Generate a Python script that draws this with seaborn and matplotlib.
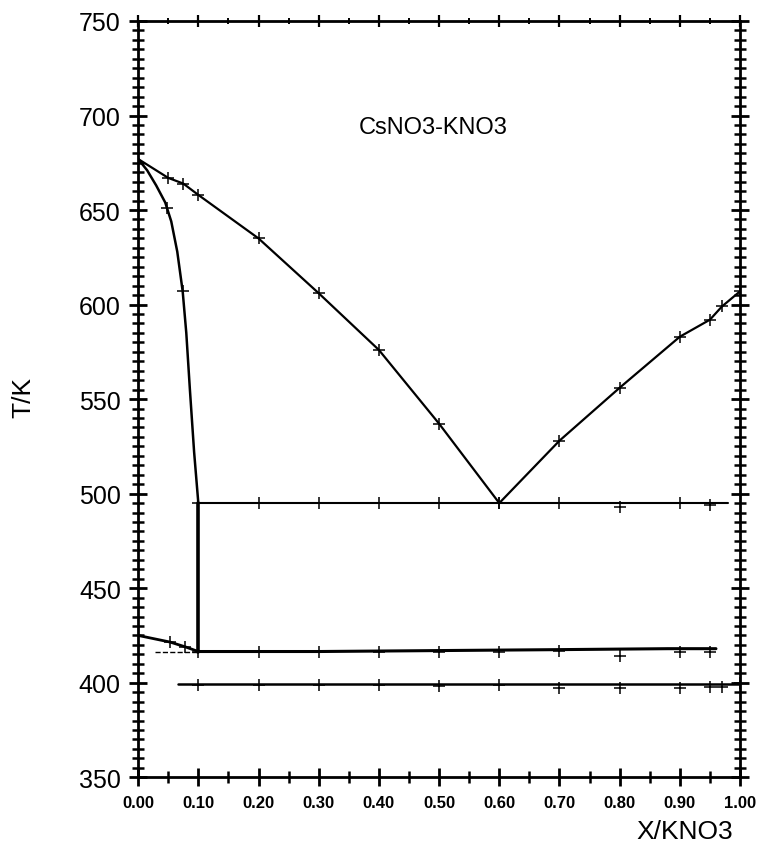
import matplotlib
matplotlib.use("Agg")
import matplotlib.pyplot as plt
from matplotlib.ticker import MultipleLocator, FormatStrFormatter
import seaborn as sns

# liquidus (measured points, both branches, eutectic at 0.60)
liq_x = [0.00, 0.05, 0.075, 0.10, 0.20, 0.30, 0.40, 0.50, 0.60, 0.70, 0.80, 0.90, 0.95, 0.97, 1.00]
liq_T = [677, 667, 664, 658, 635, 606, 576, 537, 495, 528, 556, 583, 592, 599, 607]

# solid-solution boundary on the CsNO3 side
sol_x = [0.00, 0.015, 0.03, 0.045, 0.055, 0.065, 0.074, 0.08, 0.086, 0.093, 0.10]
sol_T = [677, 671, 663, 654, 644, 628, 607, 585, 555, 522, 495]
sol_px = [0.048, 0.074]
sol_pT = [651, 607]

# eutectic line
eut_x = [0.10, 0.98]
eut_T = [495, 495]
eut_px = [0.10, 0.20, 0.30, 0.40, 0.50, 0.60, 0.70, 0.80, 0.90, 0.95]
eut_pT = [495, 495, 495, 495, 495, 495, 495, 493, 495, 494]

# vertical boundary at x = 0.10
vert_x = [0.10, 0.10]
vert_T = [495, 416]

# transition near 416 K
tr1_x = [0.00, 0.053, 0.078, 0.10]
tr1_T = [425, 421.5, 419, 416.5]
tr1_px = [0.053, 0.078]
tr1_pT = [421.5, 419]
dash_x = [0.028, 0.10]
dash_T = [416, 416]
tr2_x = [0.10, 0.30, 0.50, 0.70, 0.88, 0.96]
tr2_T = [416.5, 416.5, 417, 417.5, 418, 418]
tr2_px = [0.10, 0.20, 0.30, 0.40, 0.50, 0.60, 0.70, 0.80, 0.90, 0.95]
tr2_pT = [416, 416.5, 416, 416.5, 416.5, 416, 417, 414, 416, 416]

# transition near 399 K
tr3_x = [0.067, 1.00]
tr3_T = [399.5, 399.5]
tr3_px = [0.10, 0.20, 0.30, 0.40, 0.50, 0.60, 0.70, 0.80, 0.90, 0.95, 0.97, 1.00]
tr3_pT = [399, 399, 399, 399, 398, 399, 397, 397, 397, 397.5, 397.5, 400]

sns.set_style("ticks")
plt.rcParams["font.family"] = ["Liberation Sans", "DejaVu Sans"]
for key in ["text.color", "axes.labelcolor", "xtick.color", "ytick.color", "axes.edgecolor"]:
    plt.rcParams[key] = "black"

fig = plt.figure(figsize=(7.59, 8.45), dpi=100)
ax = fig.add_axes([0.182, 0.079, 0.793, 0.895])

lines = [
    (liq_x, liq_T, "-", 1.6),
    (sol_x, sol_T, "-", 1.8),
    (eut_x, eut_T, "-", 1.5),
    (vert_x, vert_T, "-", 2.6),
    (tr1_x, tr1_T, "-", 2.0),
    (dash_x, dash_T, "--", 1.0),
    (tr2_x, tr2_T, "-", 2.2),
    (tr3_x, tr3_T, "-", 1.8),
]
for xs, ts, ls, lw in lines:
    sns.lineplot(x=xs, y=ts, sort=False, estimator=None, color="black",
                 linestyle=ls, linewidth=lw, ax=ax)

points = [
    (liq_x[1:], liq_T[1:]),
    (sol_px, sol_pT),
    (eut_px, eut_pT),
    (tr1_px, tr1_pT),
    (tr2_px, tr2_pT),
    (tr3_px, tr3_pT),
]
for xs, ts in points:
    sns.scatterplot(x=xs, y=ts, marker="+", s=70, color="black",
                    linewidth=1.1, ax=ax, zorder=3)

ax.set_xlim(0, 1)
ax.set_ylim(350, 750)
ax.xaxis.set_major_locator(MultipleLocator(0.1))
ax.xaxis.set_minor_locator(MultipleLocator(0.05))
ax.xaxis.set_major_formatter(FormatStrFormatter("%.2f"))
ax.yaxis.set_major_locator(MultipleLocator(50))
ax.yaxis.set_minor_locator(MultipleLocator(5))

for s in ax.spines.values():
    s.set_linewidth(2.0)
ax.tick_params(which="both", direction="inout", top=False, right=True)
ax.tick_params(which="major", length=13, width=2.0)
ax.tick_params(which="minor", length=8, width=1.8)
ax.tick_params(axis="y", labelsize=18, pad=6)
ax.tick_params(axis="x", labelsize=12, pad=6)
for lab in ax.get_xticklabels():
    lab.set_fontweight("bold")

# smaller ticks along the top edge
top = ax.secondary_xaxis("top")
top.xaxis.set_major_locator(MultipleLocator(0.1))
top.xaxis.set_minor_locator(MultipleLocator(0.05))
top.tick_params(which="both", direction="inout", labeltop=False)
top.tick_params(which="major", length=8, width=1.6)
top.tick_params(which="minor", length=5, width=1.4)
top.spines["top"].set_visible(False)

ax.text(0.49, 694, "CsNO3-KNO3", fontsize=17, ha="center", va="center",
        transform=ax.get_yaxis_transform())
ax.set_xlabel("X/KNO3", fontsize=19, ha="right", va="center")
ax.xaxis.set_label_coords(0.988, -0.071)
ax.set_ylabel("T/K", fontsize=19, va="center")
ax.yaxis.set_label_coords(-0.191, 0.503)

fig.savefig("out.png", dpi=100)
